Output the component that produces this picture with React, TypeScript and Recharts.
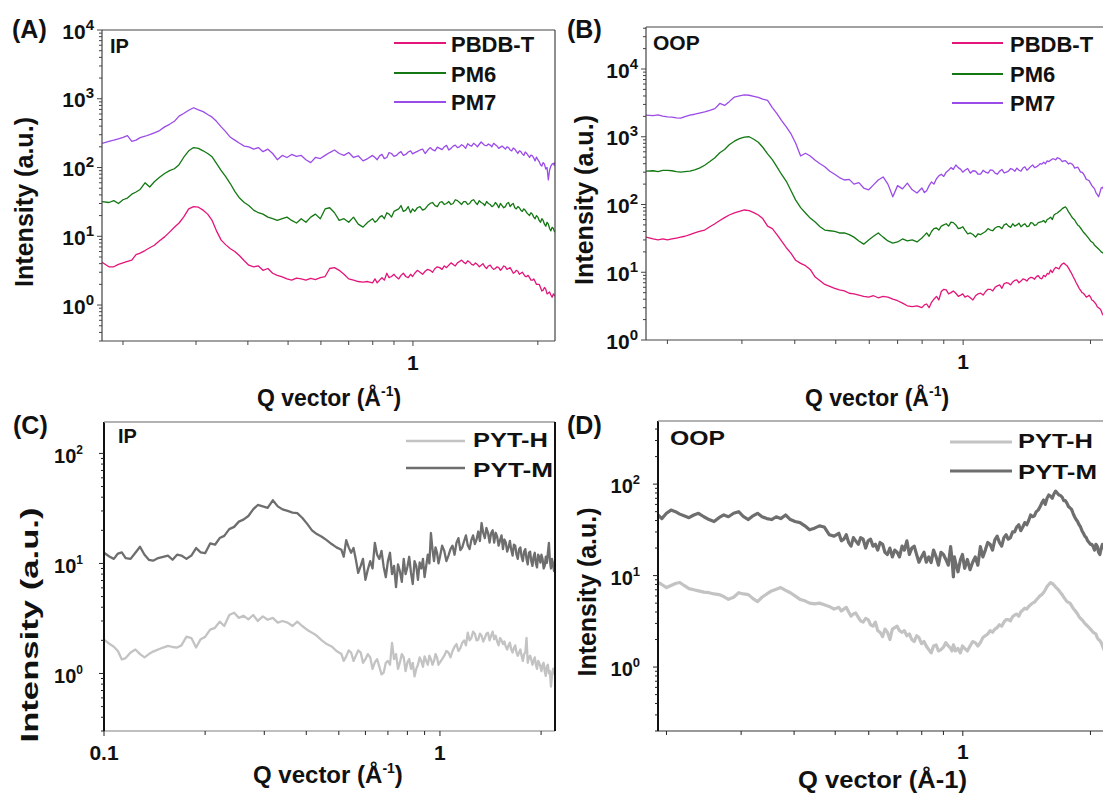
import React from 'react';
import { LineChart, Line, XAxis, YAxis } from 'recharts';

const FONT = '"Liberation Sans", Arial, Helvetica, sans-serif';

// ---------- Panel A / B shared Q grid (Å^-1) ----------
const qAB = [0.178, 0.185, 0.19, 0.195, 0.2, 0.205, 0.21, 0.215, 0.22,
  0.226, 0.232, 0.238, 0.245, 0.252, 0.259, 0.266, 0.273, 0.28,
  0.288, 0.296, 0.304, 0.312, 0.32, 0.328, 0.336, 0.345,
  0.354, 0.363, 0.372, 0.382, 0.392, 0.402, 0.413, 0.424, 0.435, 0.447,
  0.459, 0.471, 0.484, 0.497, 0.51, 0.524, 0.538, 0.552, 0.567,
  0.582, 0.598, 0.614, 0.63, 0.647, 0.664, 0.682, 0.7, 0.719, 0.738,
  0.758, 0.778, 0.799, 0.82, 0.842, 0.865, 0.888, 0.912, 0.936, 0.961, 0.987,
  1.01, 1.04, 1.07, 1.1, 1.13, 1.16, 1.19, 1.22, 1.25, 1.28, 1.31,
  1.34, 1.37, 1.4, 1.43, 1.46, 1.49, 1.52, 1.55, 1.58, 1.61,
  1.64, 1.67, 1.7, 1.73, 1.76, 1.79, 1.82, 1.85, 1.88, 1.91,
  1.94, 1.97, 2.0, 2.03, 2.06, 2.09, 2.12, 2.15, 2.18, 2.2];
// extra in-between Q points in the noisy high-q region of A / B
const qABfine = [0.81, 0.831, 0.853, 0.876, 0.9,
  0.924, 0.948, 0.974, 0.998, 1.025,
  1.055, 1.085, 1.115, 1.145, 1.175,
  1.205, 1.235, 1.265, 1.295, 1.325,
  1.355, 1.385, 1.415, 1.445, 1.475,
  1.505, 1.535, 1.565, 1.595, 1.625,
  1.655, 1.685, 1.715, 1.745, 1.775,
  1.805, 1.835, 1.865, 1.895, 1.925,
  1.955, 1.985, 2.015, 2.045, 2.075,
  2.105, 2.135, 2.165, 2.19];

// Panel A (IP)
const pbdbA = [4.2, 3.6, 3.6, 3.9, 4.1, 4.3, 4.5, 5.4, 5.7,
  6.2, 6.8, 7.4, 8.6, 9.8, 11.5, 13.5, 15.6, 19,
  25, 27, 26.5, 24, 21, 17, 12, 8.8,
  7.5, 6.6, 6.0, 5.2, 4.4, 3.8, 3.6, 3.7, 3.2, 3.4,
  2.9, 2.7, 2.56, 2.4, 2.3, 2.47, 2.4, 2.3, 2.45,
  2.35, 2.5, 2.6, 3.4, 3.5, 3.2, 2.8, 2.4, 2.3, 2.2,
  2.16, 2.2, 2.1, 2.1, 2.5, 2.9, 2.6, 2.55, 2.7, 2.6, 2.8,
  2.9, 3.0, 3.1, 3.2, 3.4, 3.5, 3.7, 3.8, 3.9, 4.1, 4.5,
  4.0, 4.2, 3.8, 3.9, 3.8, 3.6, 3.7, 3.5, 3.4, 3.5,
  3.4, 3.6, 3.4, 3.2, 3.0, 3.1, 2.9, 2.8, 2.6, 2.5,
  2.3, 2.2, 2.0, 1.8, 1.65, 1.7, 1.5, 1.4, 1.45, 1.35];
const pbdbAfine = [2.4, 2.3, 2.3, 2.5, 2.8,
  2.4, 2.9, 2.5, 2.6, 3.2,
  2.8, 3.3, 3.0, 3.6, 3.3,
  3.5, 4.1, 3.7, 4.3, 4.2,
  4.4, 3.9, 4.1, 3.6, 4.0,
  3.4, 3.8, 3.3, 3.6, 3.2,
  3.7, 3.3, 3.5, 2.9, 3.2,
  2.8, 3.0, 2.6, 2.7, 2.3,
  2.4, 2.0, 2.0, 1.6, 1.8,
  1.45, 1.55, 1.3, 1.4];
const pm6A = [32, 31, 33, 30, 34, 36, 41, 44, 48,
  60, 52, 62, 72, 82, 90, 96, 110, 140,
  175, 195, 190, 175, 160, 143, 115, 90,
  73, 58, 45, 36, 31, 28, 24, 22, 21, 19,
  18, 17, 18, 19, 17, 15.6, 18, 16, 19,
  21, 18, 25, 26, 22, 17, 18, 16, 19, 15,
  13.6, 16, 18, 17, 20, 22, 19, 24, 28, 24, 22,
  23, 27, 25, 30, 28, 31, 29, 32, 30, 33, 29,
  32, 30, 34, 29, 31, 28, 30, 27, 31, 26,
  28, 27, 31, 29, 26, 27, 24, 25, 22, 20,
  21, 18, 19, 16, 17, 14, 15, 12, 13, 11.5];
const pm6Afine = [16, 19, 18, 21, 23,
  25, 23, 27, 25, 26,
  24, 28, 31, 27, 32,
  30, 29, 34, 31, 32,
  29, 33, 31, 33, 30,
  32, 29, 28, 29, 30,
  26, 30, 27, 30, 25,
  26, 23, 24, 21, 22,
  19, 20, 17, 18, 15,
  16, 13, 13.5, 12];
const pm7A = [225, 240, 250, 262, 275, 290, 240, 250, 272,
  285, 300, 320, 345, 390, 425, 470, 560, 610,
  680, 740, 690, 650, 590, 540, 470, 390,
  330, 275, 250, 225, 205, 200, 185, 195, 170, 185,
  160, 130, 150, 140, 155, 145, 150, 130, 118,
  140, 135, 150, 165, 180, 160, 150, 165, 140, 148,
  125, 135, 150, 130, 155, 140, 160, 150, 170, 155, 175,
  165, 180, 160, 195, 175, 190, 200, 180, 205, 195, 215,
  190, 210, 225, 200, 235, 210, 220, 200, 215, 190,
  205, 185, 195, 175, 185, 160, 170, 150, 160, 140,
  148, 125, 130, 110, 118, 95, 66, 105, 115, 120];
const pm7Afine = [140, 148, 135, 165, 145,
  162, 150, 168, 158, 172,
  185, 178, 182, 198, 182,
  210, 190, 212, 200, 205,
  222, 205, 215, 218, 222,
  208, 212, 225, 205, 198,
  195, 200, 180, 192, 172,
  175, 158, 168, 150, 152,
  138, 142, 122, 105, 112,
  100, 92, 112, 108];

// Panel B (OOP)
const pbdbB = [33, 31, 30, 31, 30, 31, 32, 33, 34,
  36, 38, 40, 42, 47, 52, 58, 64, 70,
  75, 79, 83, 81, 76, 70, 62, 48,
  44, 36, 29, 23, 19, 15, 13.5, 12.5, 11, 8.5,
  7.5, 6.6, 6.2, 5.8, 5.5, 5.3, 4.9, 4.8, 4.6,
  4.4, 4.3, 4.5, 4.2, 4.4, 4.3, 4.0, 3.8, 3.5, 3.2,
  3.1, 3.2, 3.0, 3.4, 3.6, 4.4, 5.2, 5.5, 5.0, 4.9, 4.6,
  4.3, 4.2, 4.5, 4.9, 5.2, 5.6, 6.0, 6.5, 6.8, 6.9, 7.2,
  7.7, 7.4, 7.8, 8.1, 8.3, 8.6, 8.2, 9.0, 9.6, 10.8,
  11.0, 11.5, 12.5, 13.7, 12.5, 10.5, 8.6, 7.0, 5.8, 5.0,
  4.6, 4.4, 4.3, 3.8, 3.4, 3.0, 2.7, 2.3, 2.1, 2.0];
const pbdbBfine = [3.3, 3.0, 4.0, 3.9, 5.6,
  4.8, 5.3, 4.4, 4.8, 4.5,
  3.9, 4.8, 4.6, 5.6, 5.3,
  6.3, 5.8, 7.0, 6.5, 7.6,
  7.0, 8.0, 7.4, 8.4, 7.9,
  8.9, 8.0, 8.6, 9.4, 9.9,
  11.8, 11.2, 13.2, 13.0, 11.5,
  9.6, 7.8, 6.4, 5.4, 4.9,
  4.3, 4.6, 3.9, 3.6, 3.1,
  2.9, 2.4, 2.2, 2.05];
const pm6B = [312, 315, 305, 320, 320, 315, 305, 300, 305,
  310, 325, 345, 380, 430, 490, 580, 650, 760,
  860, 940, 990, 1000, 920, 830, 700, 560,
  460, 360, 280, 220, 160, 116, 90, 75, 63, 55,
  47, 42, 41, 40, 38, 38, 36, 33, 29,
  26, 30, 34, 38, 33, 29, 27, 28, 31, 29,
  30, 28, 32, 38, 40, 45, 48, 52, 55, 50, 45,
  42, 38, 33, 36, 40, 42, 45, 47, 50, 48, 52,
  50, 47, 52, 48, 53, 50, 55, 58, 60, 65,
  70, 75, 82, 90, 86, 72, 62, 54, 48, 42,
  37, 33, 29, 27, 24, 22, 20, 19, 18, 17];
const pm6Bfine = [35, 34, 44, 42, 50,
  48, 54, 44, 47, 37,
  36, 37, 38, 44, 41,
  47, 44, 52, 46, 48,
  53, 50, 47, 54, 49,
  54, 56, 54, 62, 60,
  73, 79, 87, 92, 78,
  66, 59, 50, 45, 39,
  35, 31, 28, 25, 23,
  21, 19.5, 18, 17.5];
const pm7B = [2090, 2050, 2100, 2020, 1960, 1950, 1900, 1880, 1980,
  2080, 2150, 2230, 2330, 2450, 2600, 3100, 2900, 3300,
  3860, 4000, 4150, 4100, 3950, 3800, 3600, 3450,
  2700, 2200, 1750, 1400, 1100, 800, 520, 570, 520, 450,
  400, 360, 310, 280, 250, 230, 235, 200, 210,
  175, 165, 195, 230, 255, 200, 130, 190, 170, 207,
  165, 148, 175, 160, 215, 240, 280, 300, 350, 383, 330,
  320, 290, 310, 280, 300, 325, 290, 310, 292, 310, 330,
  345, 310, 360, 340, 383, 360, 400, 420, 440, 450,
  470, 490, 460, 440, 420, 410, 380, 350, 330, 300,
  260, 230, 207, 180, 150, 130, 175, 164, 150, 145];
const pm7Bfine = [150, 190, 200, 265, 260,
  320, 330, 350, 300, 340,
  315, 280, 320, 290, 320,
  280, 330, 300, 340, 310,
  320, 345, 320, 365, 350,
  375, 395, 400, 430, 470,
  455, 480, 430, 445, 395,
  400, 345, 355, 300, 285,
  235, 225, 190, 170, 140,
  150, 180, 150, 160];

// ---------- Panel C (IP, PYT) ----------
const qC = [0.1, 0.104, 0.107, 0.11, 0.113, 0.116, 0.12, 0.124, 0.128, 0.132,
  0.136, 0.14, 0.145, 0.15, 0.155, 0.16, 0.165, 0.17, 0.176, 0.182,
  0.188, 0.194, 0.2, 0.207, 0.214, 0.221, 0.228, 0.236, 0.244, 0.252,
  0.26, 0.269, 0.278, 0.287, 0.297, 0.307, 0.318, 0.329, 0.34, 0.352,
  0.364, 0.376, 0.389, 0.402, 0.416, 0.43, 0.445, 0.46, 0.476, 0.492,
  0.509, 0.526, 0.544, 0.562, 0.581, 0.6, 0.62, 0.64, 0.66, 0.68,
  0.7, 0.72, 0.74, 0.76, 0.78, 0.8, 0.82, 0.84, 0.86, 0.88,
  0.9, 0.92, 0.94, 0.96, 0.98, 1.0, 1.03, 1.06, 1.09, 1.12,
  1.15, 1.18, 1.21, 1.24, 1.27, 1.3, 1.33, 1.36, 1.39, 1.42,
  1.45, 1.48, 1.51, 1.54, 1.57, 1.6, 1.63, 1.66, 1.69, 1.72,
  1.75, 1.78, 1.81, 1.84, 1.87, 1.9, 1.93, 1.96, 1.99, 2.02,
  2.05, 2.08, 2.11, 2.14, 2.17, 2.2];
const qCfine = [0.517, 0.535, 0.553, 0.571, 0.59,
  0.61, 0.63, 0.65, 0.67, 0.69,
  0.71, 0.73, 0.75, 0.77, 0.79,
  0.81, 0.83, 0.85, 0.87, 0.89,
  0.91, 0.93, 0.95, 0.97, 0.99,
  1.015, 1.045, 1.075, 1.105, 1.135,
  1.165, 1.195, 1.225, 1.255, 1.285,
  1.315, 1.345, 1.375, 1.405, 1.435,
  1.465, 1.495, 1.525, 1.555, 1.585,
  1.615, 1.645, 1.675, 1.705, 1.735,
  1.765, 1.795, 1.825, 1.855, 1.885,
  1.915, 1.945, 1.975, 2.005, 2.035,
  2.065, 2.095, 2.125, 2.155, 2.185];
const pythC = [2.03, 1.85, 1.75, 1.6, 1.34, 1.38, 1.55, 1.65, 1.5, 1.4,
  1.5, 1.58, 1.65, 1.72, 1.78, 1.74, 1.72, 1.8, 2.16, 2.1,
  1.72, 2.05, 2.15, 2.5, 2.6, 2.96, 2.7, 3.4, 3.57, 3.2,
  3.35, 3.1, 3.4, 3.0, 3.3, 3.08, 3.2, 2.9, 3.0, 2.9,
  2.7, 2.96, 2.7, 2.5, 2.35, 2.2, 2.0, 1.85, 1.76, 1.6,
  1.5, 1.43, 1.55, 1.45, 1.55, 1.35, 1.4, 1.26, 1.15, 1.02,
  1.3, 1.9, 1.5, 1.26, 1.4, 1.26, 1.1, 0.94, 1.2, 1.3,
  1.43, 1.2, 1.35, 1.3, 1.4, 1.26, 1.45, 1.55, 1.6, 1.85,
  1.7, 2.0, 2.35, 2.1, 2.3, 2.03, 2.2, 2.1, 2.35, 2.2,
  2.05, 1.95, 2.1, 1.85, 1.76, 1.8, 1.65, 1.7, 1.55, 1.55,
  1.45, 1.5, 2.1, 1.4, 1.34, 1.3, 1.2, 1.3, 1.15, 1.2,
  1.05, 1.16, 1.0, 0.76, 1.1, 1.16];
const pythCfine = [1.3, 1.62, 1.3, 1.62, 1.25,
  1.5, 1.1, 1.35, 0.98, 1.25,
  1.2, 1.35, 1.1, 1.5, 1.05,
  1.35, 1.25, 1.1, 1.4, 1.15,
  1.3, 1.45, 1.2, 1.5, 1.2,
  1.35, 1.6, 1.4, 1.75, 1.6,
  1.9, 1.8, 2.0, 2.4, 2.0,
  2.3, 1.95, 2.3, 2.0, 2.4,
  2.2, 1.8, 2.0, 1.95, 1.65,
  1.9, 1.55, 1.8, 1.45, 1.65,
  1.3, 1.55, 1.25, 1.45, 1.2,
  1.4, 1.1, 1.25, 1.05, 1.25,
  0.95, 1.2, 1.05, 0.95, 1.0];
const pytmC = [12.5, 11.5, 11.0, 12.3, 12.6, 11.2, 11.0, 12.5, 14.2, 12.0,
  10.8, 10.6, 11.2, 11.5, 11.8, 10.8, 12.0, 11.8, 11.0, 11.8,
  13.8, 12.6, 12.4, 15.2, 14.8, 17.0, 17.8, 20.5, 21.5, 24,
  25, 27, 31, 34, 33, 32, 37.5, 33, 31, 30,
  29, 28.7, 26, 23, 20, 18.5, 17.5, 16.3, 15, 14,
  13.3, 16.3, 12.5, 10.8, 9.5, 7.1, 10.5, 15.4, 11.0, 9.3,
  10.5, 8.0, 6.1, 8.5, 11.0, 9.3, 8.2, 10.5, 7.1, 9.0,
  7.5, 12.0, 18.9, 10.5, 12.5, 11.5, 13.0, 11.8, 14.5, 15.4,
  13.2, 16.0, 14.6, 16.3, 15.0, 19.5, 23.3, 17.0, 19.0, 18.9,
  15.5, 17.5, 16.3, 13.5, 15.5, 14.0, 13.3, 14.8, 12.0, 13.5,
  11.5, 12.8, 11.0, 12.5, 10.5, 11.5, 10.0, 12.0, 10.2, 11.0,
  9.5, 10.1, 15.4, 9.0, 10.0, 9.3];
const pytmCfine = [11.5, 14.0, 13.8, 8.2, 11.0,
  8.8, 9.0, 12.0, 13.0, 7.5,
  12.5, 9.5, 9.8, 6.8, 8.0,
  11.5, 6.5, 9.5, 10.2, 11.0,
  9.5, 10.0, 13.5, 14.0, 10.0,
  14.5, 10.5, 13.5, 12.0, 17.0,
  14.0, 18.0, 13.5, 18.0, 16.5,
  16.0, 19.0, 21.0, 15.5, 20.0,
  19.0, 14.5, 18.0, 16.5, 12.8,
  16.0, 11.8, 14.5, 11.0, 14.0,
  10.5, 13.5, 9.8, 12.8, 9.5,
  12.5, 9.2, 11.5, 12.0, 9.0,
  11.5, 12.5, 10.5, 11.0, 8.5];

// ---------- Panel D (OOP, PYT) ----------
const qD = [0.191, 0.195, 0.2, 0.205, 0.21, 0.215, 0.22, 0.226, 0.232, 0.238,
  0.245, 0.252, 0.259, 0.266, 0.273, 0.28, 0.288, 0.296, 0.304, 0.312,
  0.32, 0.328, 0.336, 0.345, 0.354, 0.363, 0.372, 0.382, 0.392, 0.402,
  0.413, 0.424, 0.435, 0.447, 0.459, 0.471, 0.484, 0.497, 0.51, 0.524,
  0.538, 0.552, 0.567, 0.582, 0.598, 0.614, 0.63, 0.647, 0.664, 0.682,
  0.7, 0.719, 0.738, 0.758, 0.778, 0.799, 0.82, 0.842, 0.865, 0.888,
  0.912, 0.936, 0.95, 0.961, 0.987, 1.01, 1.04, 1.07, 1.1, 1.13,
  1.16, 1.19, 1.22, 1.25, 1.28, 1.31, 1.34, 1.37, 1.4, 1.43,
  1.46, 1.49, 1.52, 1.55, 1.58, 1.61, 1.64, 1.67, 1.7, 1.73,
  1.76, 1.79, 1.82, 1.85, 1.88, 1.91, 1.94, 1.97, 2.0, 2.03,
  2.06, 2.09, 2.12, 2.15, 2.18, 2.2];
const qDfine = [0.517, 0.531, 0.545, 0.559, 0.574,
  0.59, 0.606, 0.622, 0.638, 0.655,
  0.673, 0.691, 0.709, 0.728, 0.748,
  0.768, 0.788, 0.81, 0.831, 0.853,
  0.876, 0.9, 0.924, 0.943, 0.955,
  0.974, 0.998, 1.025, 1.055, 1.085,
  1.115, 1.145, 1.175, 1.205, 1.235,
  1.265, 1.295, 1.325, 1.355, 1.385,
  1.415, 1.445, 1.475, 1.505, 1.535,
  1.565, 1.595, 1.625, 1.655, 1.685,
  1.715, 1.745, 1.775, 1.805, 1.835,
  1.865, 1.895, 1.925, 1.955, 1.985,
  2.015, 2.045, 2.075, 2.105, 2.135,
  2.165, 2.19];
const pythD = [8.4, 8.0, 7.4, 7.8, 8.2, 8.4, 7.8, 7.2, 7.0, 6.8,
  6.6, 6.5, 6.3, 6.2, 5.9, 5.5, 5.8, 6.5, 6.3, 6.2,
  5.6, 5.2, 5.8, 6.3, 6.8, 7.1, 7.4, 6.9, 6.5, 6.0,
  5.5, 5.3, 5.0, 4.9, 5.0, 4.8, 4.6, 4.3, 4.5, 4.3,
  4.0, 3.8, 3.5, 3.1, 3.3, 2.8, 2.5, 2.15, 2.4, 2.6,
  2.8, 2.4, 2.2, 2.0, 2.2, 1.8, 1.7, 1.43, 1.75, 1.55,
  1.85, 1.6, 1.75, 1.5, 1.43, 1.6, 1.7, 1.85, 1.85, 2.2,
  2.5, 2.6, 2.9, 3.1, 3.3, 3.55, 3.8, 4.0, 4.4, 4.6,
  5.0, 5.4, 6.0, 6.5, 7.6, 8.4, 7.9, 7.2, 6.5, 5.8,
  5.2, 5.0, 4.4, 4.0, 3.55, 3.3, 3.0, 2.8, 2.6, 2.4,
  2.3, 2.0, 1.85, 1.56, 1.7, 1.6];
const pythDfine = [4.1, 4.5, 3.6, 3.9, 3.2,
  3.4, 2.9, 3.1, 2.4, 2.6,
  2.0, 2.7, 2.5, 2.5, 2.3,
  1.9, 2.1, 1.9, 1.55, 1.7,
  1.5, 1.65, 1.7, 1.5, 1.65,
  1.6, 1.7, 1.5, 1.9, 1.7,
  2.1, 2.3, 2.4, 2.7, 2.8,
  3.3, 3.2, 3.7, 3.6, 4.2,
  4.3, 4.8, 5.1, 5.7, 6.2,
  7.0, 8.0, 8.2, 7.5, 6.9,
  6.2, 5.5, 5.1, 4.7, 4.2,
  3.8, 3.4, 3.15, 2.9, 2.7,
  2.5, 2.35, 2.1, 1.95, 1.7,
  1.65, 1.55];
const pytmD = [46, 42, 48, 52, 50, 47, 45, 43, 46, 48,
  44, 41, 39, 43, 46, 44, 48, 50, 44, 41,
  45, 48, 44, 42, 41, 44, 42, 46, 41, 39,
  38, 35, 31.7, 33, 35, 34, 28, 27, 29, 25,
  23, 26, 22, 25, 24, 21, 19, 22, 17, 16,
  18, 21, 24, 20, 17, 16, 14, 13.9, 16, 18,
  15, 20.7, 9.7, 14, 14.9, 12, 11.6, 16, 20.7, 19,
  22, 24.6, 23, 26, 25, 30, 34, 31, 38, 40,
  44, 50, 56, 67, 70, 74, 78, 80, 75, 66,
  62, 55, 48, 41, 36, 31, 27, 24, 22, 20.7,
  22, 18, 20, 20.7, 17, 19];
const pytmDfine = [24, 28, 21, 24, 26,
  20, 25, 22, 23, 18,
  20, 19, 16, 19, 17,
  21, 14, 18, 16, 19,
  13, 17, 13, 15, 16,
  11, 17, 15, 14, 13,
  16, 23, 19, 27, 21,
  28, 26, 30, 36, 34,
  36, 46, 45, 52, 62,
  60, 76, 70, 84, 76,
  72, 66, 57, 53, 44,
  39, 34, 29, 26, 23,
  22, 19, 21, 17, 22,
  18, 20];

// ---------- Axis ticks ----------
const xTicksAB = [0.2, 0.3, 0.4, 0.5, 0.6, 0.7, 0.8, 0.9, 1, 2];
const xTicksC = [0.1, 0.2, 0.3, 0.4, 0.5, 0.6, 0.7, 0.8, 0.9, 1, 2];
const xTicksD = [0.2, 0.3, 0.4, 0.5, 0.6, 0.7, 0.8, 0.9, 1, 2];
const xLabelsAB = ['1'];
const xLabelsC = ['0.1', '1'];
const yTicksA = [0.3, 0.4, 0.5, 0.6, 0.7, 0.8, 0.9, 1, 2, 3, 4, 5, 6, 7, 8, 9,
  10, 20, 30, 40, 50, 60, 70, 80, 90, 100, 200, 300, 400, 500, 600, 700, 800, 900,
  1000, 2000, 3000, 4000, 5000, 6000, 7000, 8000, 9000, 10000];
const yTicksB = [1, 2, 3, 4, 5, 6, 7, 8, 9, 10, 20, 30, 40, 50, 60, 70, 80, 90,
  100, 200, 300, 400, 500, 600, 700, 800, 900, 1000, 2000, 3000, 4000, 5000, 6000,
  7000, 8000, 9000, 10000, 20000, 30000, 40000];
const yTicksC = [0.3, 0.4, 0.5, 0.6, 0.7, 0.8, 0.9, 1, 2, 3, 4, 5, 6, 7, 8, 9,
  10, 20, 30, 40, 50, 60, 70, 80, 90, 100];
const yTicksD = [0.2, 0.3, 0.4, 0.5, 0.6, 0.7, 0.8, 0.9, 1, 2, 3, 4, 5, 6, 7, 8, 9,
  10, 20, 30, 40, 50, 60, 70, 80, 90, 100, 200, 300, 400];

const COL = { pbdb: '#e3147a', pm6: '#137813', pm7: '#9b4be8', pyth: '#c3c3c3', pytm: '#6e6e6e' };

type Series = { values: number[]; fine: number[]; color: string; width: number };
type Cfg = {
  plotLeft: number; plotTop: number; plotW: number; plotH: number;
  q: number[]; qFine: number[]; series: Series[];
  xDomain: [number, number]; yDomain: [number, number];
  xTicks: number[]; xLabels: string[]; yTicks: number[];
  yGap: number; yFont: number; ySup: number; yDy: number; yRaise: number;
  xDy: number; xFont: number;
  leftStroke: string; leftW: number; bottomStroke: string; bottomW: number; tickColor: string;
};

const ML = 70, MT = 20, MR = 10, XH = 40;

function isDecade(v: number) {
  const l = Math.log10(v);
  return Math.abs(l - Math.round(l)) < 1e-6;
}

function buildRows(c: Cfg) {
  const rows: Record<string, number>[] = [];
  c.q.forEach((q, i) => {
    const r: Record<string, number> = { q };
    c.series.forEach((s, k) => { r['s' + k] = s.values[i]; });
    rows.push(r);
  });
  c.qFine.forEach((q, i) => {
    const r: Record<string, number> = { q };
    c.series.forEach((s, k) => { r['s' + k] = s.fine[i]; });
    rows.push(r);
  });
  rows.sort((a, b) => a.q - b.q);
  return rows;
}

function Panel({ c }: { c: Cfg }) {
  const W = c.plotW + ML + MR;
  const H = c.plotH + MT + XH;
  const axisX = ML;
  const axisY = MT + c.plotH;
  const data = buildRows(c);
  const yTick = (p: any) => {
    const y = p.y;
    const v = p.payload.value;
    const major = isDecade(v);
    return (
      <g>
        <line x1={axisX} x2={axisX - (major ? 5 : 3)} y1={y} y2={y} stroke={c.tickColor} strokeWidth={1} />
        {major && (
          <text x={axisX - c.yGap} y={y + c.yDy} textAnchor="end" fontFamily={FONT} fontWeight={700}
            fontSize={c.yFont} fill="#111">
            10<tspan dy={-c.yRaise} fontSize={c.ySup}>{Math.round(Math.log10(v))}</tspan>
          </text>
        )}
      </g>
    );
  };
  const xTick = (p: any) => {
    const x = p.x;
    const v = p.payload.value;
    const lab = String(v);
    const show = c.xLabels.includes(lab);
    return (
      <g>
        <line x1={x} x2={x} y1={axisY} y2={axisY + (show ? 5 : 4)} stroke={c.tickColor} strokeWidth={1} />
        {show && (
          <text x={x} y={axisY + c.xDy} textAnchor="middle" fontFamily={FONT} fontWeight={700}
            fontSize={c.xFont} fill="#111">{lab}</text>
        )}
      </g>
    );
  };
  return (
    <div style={{ position: 'absolute', left: c.plotLeft - ML, top: c.plotTop - MT, width: W, height: H }}>
      <LineChart width={W} height={H} data={data} margin={{ top: MT, right: MR, bottom: 0, left: 0 }}>
        <XAxis dataKey="q" type="number" scale="log" domain={c.xDomain} allowDataOverflow
          ticks={c.xTicks} interval={0} tick={xTick} tickLine={false} tickSize={0} tickMargin={0}
          height={XH} axisLine={{ stroke: c.bottomStroke, strokeWidth: c.bottomW }} />
        <YAxis type="number" scale="log" domain={c.yDomain} allowDataOverflow
          ticks={c.yTicks} interval={0} tick={yTick} tickLine={false} tickSize={0} tickMargin={0}
          width={ML} axisLine={{ stroke: c.leftStroke, strokeWidth: c.leftW }} />
        {c.series.map((s, k) => (
          <Line key={k} dataKey={'s' + k} type="linear" stroke={s.color} strokeWidth={s.width}
            strokeLinejoin="round" dot={false} activeDot={false} isAnimationActive={false} />
        ))}
      </LineChart>
    </div>
  );
}

const base = { yDy: 8.5, yRaise: 9, xDy: 29, xFont: 21 };

const cfgA: Cfg = {
  ...base, plotLeft: 102, plotTop: 30, plotW: 453, plotH: 311, q: qAB, qFine: qABfine,
  series: [
    { values: pbdbA, fine: pbdbAfine, color: COL.pbdb, width: 1.3 },
    { values: pm6A, fine: pm6Afine, color: COL.pm6, width: 1.3 },
    { values: pm7A, fine: pm7Afine, color: COL.pm7, width: 1.3 },
  ],
  xDomain: [0.178, 2.2], yDomain: [0.3, 10000], xTicks: xTicksAB, xLabels: xLabelsAB, yTicks: yTicksA,
  yGap: 8, yFont: 21, ySup: 15,
  leftStroke: '#444', leftW: 1.2, bottomStroke: '#444', bottomW: 1.2, tickColor: '#444',
};
const cfgB: Cfg = {
  ...base, plotLeft: 646, plotTop: 27, plotW: 462, plotH: 313, q: qAB, qFine: qABfine,
  series: [
    { values: pbdbB, fine: pbdbBfine, color: COL.pbdb, width: 1.3 },
    { values: pm6B, fine: pm6Bfine, color: COL.pm6, width: 1.3 },
    { values: pm7B, fine: pm7Bfine, color: COL.pm7, width: 1.3 },
  ],
  xDomain: [0.178, 2.2], yDomain: [1, 41700], xTicks: xTicksAB, xLabels: xLabelsAB, yTicks: yTicksB,
  yGap: 8, yFont: 21, ySup: 15,
  leftStroke: '#444', leftW: 1.2, bottomStroke: '#444', bottomW: 1.2, tickColor: '#444',
};
const cfgC: Cfg = {
  ...base, plotLeft: 104, plotTop: 422, plotW: 451, plotH: 309, q: qC, qFine: qCfine,
  series: [
    { values: pythC, fine: pythCfine, color: COL.pyth, width: 2.3 },
    { values: pytmC, fine: pytmCfine, color: COL.pytm, width: 2.3 },
  ],
  xDomain: [0.1, 2.2], yDomain: [0.3, 193], xTicks: xTicksC, xLabels: xLabelsC, yTicks: yTicksC,
  yGap: 21, yFont: 20, ySup: 12, yDy: 10, xDy: 29,
  leftStroke: '#111', leftW: 2, bottomStroke: '#aaa', bottomW: 1.6, tickColor: '#222',
};
const cfgD: Cfg = {
  ...base, plotLeft: 658, plotTop: 421, plotW: 450, plotH: 310, q: qD, qFine: qDfine,
  series: [
    { values: pythD, fine: pythDfine, color: COL.pyth, width: 3.2 },
    { values: pytmD, fine: pytmDfine, color: COL.pytm, width: 3.2 },
  ],
  xDomain: [0.191, 2.2], yDomain: [0.2, 490], xTicks: xTicksD, xLabels: xLabelsAB, yTicks: yTicksD,
  yGap: 18, yFont: 20, ySup: 13, yDy: 9, xDy: 28,
  leftStroke: '#111', leftW: 2, bottomStroke: '#777', bottomW: 1.6, tickColor: '#222',
};

const T = { fontFamily: FONT, fontWeight: 700, fill: '#111' } as const;

function QTitle({ x, y, size }: { x: number; y: number; size: number }) {
  return (
    <text x={x} y={y} fontSize={size} {...T}>
      Q vector (Å<tspan dy={-10} fontSize={14}>-1</tspan><tspan dy={10}>)</tspan>
    </text>
  );
}

function LegendRow({ x1, x2, y, tx, ty, color, w, label, size, len }:
  { x1: number; x2: number; y: number; tx: number; ty: number; color: string; w: number; label: string; size: number; len?: number }) {
  return (
    <g>
      <line x1={x1} x2={x2} y1={y} y2={y} stroke={color} strokeWidth={w} />
      <text x={tx} y={ty} fontSize={size} {...T} {...(len ? { textLength: len, lengthAdjust: 'spacingAndGlyphs' } : {})}>{label}</text>
    </g>
  );
}

function Overlay() {
  return (
    <svg width={1103} height={798} style={{ position: 'absolute', left: 0, top: 0, pointerEvents: 'none' }}>
      {/* frames */}
      <line x1={102} x2={555} y1={30} y2={30} stroke="#444" strokeWidth={1.2} />
      <line x1={555} x2={555} y1={30} y2={341} stroke="#444" strokeWidth={1.2} />
      <line x1={646} x2={1103} y1={27} y2={27} stroke="#444" strokeWidth={1.2} />
      <line x1={104} x2={555} y1={422} y2={422} stroke="#999" strokeWidth={1.5} />
      <line x1={555} x2={555} y1={422} y2={731} stroke="#111" strokeWidth={2} />
      <line x1={658} x2={1103} y1={421} y2={421} stroke="#999" strokeWidth={1.5} />

      {/* panel letters */}
      <text x={12} y={38} fontSize={25} {...T}>(A)</text>
      <text x={567} y={38} fontSize={25} {...T}>(B)</text>
      <text x={13} y={434} fontSize={25} {...T}>(C)</text>
      <text x={567} y={434} fontSize={25} {...T}>(D)</text>

      {/* in-plot tags */}
      <text x={110} y={53} fontSize={20} {...T}>IP</text>
      <text x={653} y={50} fontSize={21} {...T}>OOP</text>
      <text x={118} y={443} fontSize={20} {...T}>IP</text>
      <text x={670} y={445} fontSize={20} {...T} textLength={55} lengthAdjust="spacingAndGlyphs">OOP</text>

      {/* legends */}
      <LegendRow x1={394} x2={446} y={43} tx={451} ty={52} color={COL.pbdb} w={2} label="PBDB-T" size={22} />
      <LegendRow x1={394} x2={446} y={73} tx={451} ty={82} color={COL.pm6} w={2} label="PM6" size={22} />
      <LegendRow x1={394} x2={446} y={102} tx={451} ty={110} color={COL.pm7} w={2} label="PM7" size={22} />
      <LegendRow x1={952} x2={1003} y={43} tx={1010} ty={52} color={COL.pbdb} w={2} label="PBDB-T" size={22} />
      <LegendRow x1={952} x2={1003} y={74} tx={1010} ty={82} color={COL.pm6} w={2} label="PM6" size={22} />
      <LegendRow x1={952} x2={1003} y={103} tx={1010} ty={111} color={COL.pm7} w={2} label="PM7" size={22} />
      <LegendRow x1={406} x2={465} y={441} tx={473} ty={447} color={COL.pyth} w={2.5} label="PYT-H" size={20} len={75} />
      <LegendRow x1={406} x2={465} y={468} tx={473} ty={477} color={COL.pytm} w={2.5} label="PYT-M" size={20} len={80} />
      <LegendRow x1={950} x2={1012} y={442} tx={1018} ty={448} color={COL.pyth} w={3} label="PYT-H" size={21} len={75} />
      <LegendRow x1={950} x2={1012} y={471} tx={1018} ty={479} color={COL.pytm} w={3} label="PYT-M" size={21} len={79} />

      {/* axis titles */}
      <text transform="rotate(-90 33 202)" x={33} y={202} textAnchor="middle" fontSize={25} {...T}
        textLength={170} lengthAdjust="spacingAndGlyphs">Intensity (a.u.)</text>
      <text transform="rotate(-90 593 200)" x={593} y={200} textAnchor="middle" fontSize={25} {...T}
        textLength={170} lengthAdjust="spacingAndGlyphs">Intensity (a.u.)</text>
      <text transform="rotate(-90 38 625)" x={38} y={625} textAnchor="middle" fontSize={24} {...T}
        textLength={235} lengthAdjust="spacingAndGlyphs">Intensity (a.u.)</text>
      <text transform="rotate(-90 596 592)" x={596} y={592} textAnchor="middle" fontSize={25} {...T}
        textLength={169} lengthAdjust="spacingAndGlyphs">Intensity (a.u.)</text>

      <QTitle x={257} y={406} size={23} />
      <QTitle x={805} y={406} size={23} />
      <QTitle x={253} y={783} size={24} />
      <text x={798} y={788} fontSize={24} {...T} textLength={169} lengthAdjust="spacingAndGlyphs">Q vector (Å-1)</text>
    </svg>
  );
}

export default function App() {
  return (
    <div style={{ position: 'absolute', left: 0, top: 0, width: 1103, height: 798, overflow: 'hidden', background: '#fff' }}>
      <Panel c={cfgA} />
      <Panel c={cfgB} />
      <Panel c={cfgC} />
      <Panel c={cfgD} />
      <Overlay />
    </div>
  );
}
